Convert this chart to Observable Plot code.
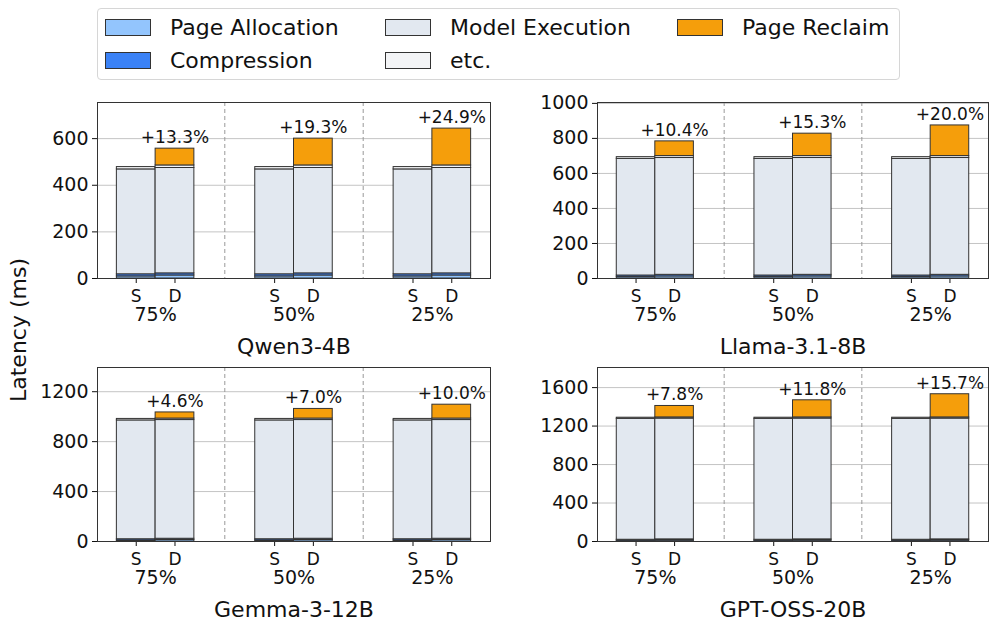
<!DOCTYPE html>
<html><head><meta charset="utf-8">
<script src="https://cdn.jsdelivr.net/npm/d3@7"></script>
<script src="https://cdn.jsdelivr.net/npm/@observablehq/plot@0.6"></script>
<style>
body{margin:0;background:#fff;font-family:"DejaVu Sans",sans-serif;}
#root{position:relative;width:997px;height:632px;overflow:hidden;background:#fff;}
.panel{position:absolute;}
#legend{position:absolute;left:97px;top:8px;width:801px;height:70px;border:1px solid #d6d6d6;border-radius:4px;box-sizing:content-box;}
.item{position:absolute;display:flex;align-items:center;height:26px;font-size:22px;color:#111;white-space:nowrap;}
.sw{width:44px;height:15px;border:1px solid #333;margin-right:19px;}
#ylabel{position:absolute;left:18px;top:330px;transform:translate(-50%,-50%) rotate(-90deg);font-size:22px;white-space:nowrap;color:#111;}
</style></head>
<body><div id="root"><div id="legend"></div><div id="ylabel">Latency (ms)</div></div>
<script>
const models = ["Qwen3-4B", "Llama-3.1-8B", "Gemma-3-12B", "GPT-OSS-20B"];
const groups = ["75%", "50%", "25%"];
const configs = ["S", "D"];
const layers = ["Page Allocation", "Compression", "Model Execution", "etc.", "Page Reclaim"];
const colors = ["#93c5fd", "#3b82f6", "#e2e8f0", "#f3f4f6", "#f59e0b"];

// per-model values (ms), S = static, D = dynamic
const pageAllocS   = [9, 8, 8, 8];
const pageAllocD   = [13, 12, 12, 12];
const compressionS = [9, 9, 10, 10];
const compressionD = [9, 9, 10, 10];
const modelExecS   = [450, 666, 952, 1257];
const modelExecD   = [452, 667, 951, 1256];
const etcS         = [10, 10, 12, 12];
const etcD         = [11, 11, 12, 12];
// page reclaim for D at 75%, 50%, 25%
const reclaimQwen  = [72, 115, 158];
const reclaimLlama = [84, 128, 175];
const reclaimGemma = [49, 77, 111];
const reclaimGpt   = [119, 178, 241];
const reclaimD = [reclaimQwen, reclaimLlama, reclaimGemma, reclaimGpt];
const overheadLabels = [
  ["+13.3%", "+19.3%", "+24.9%"],
  ["+10.4%", "+15.3%", "+20.0%"],
  ["+4.6%", "+7.0%", "+10.0%"],
  ["+7.8%", "+11.8%", "+15.7%"]
];
const yTicks = [
  [0, 200, 400, 600],
  [0, 200, 400, 600, 800, 1000],
  [0, 400, 800, 1200],
  [0, 400, 800, 1200, 1600]
];
const yMax = [755, 1005, 1394, 1809];

// legend
const legendPos = [[0,0],[0,1],[1,0],[1,1],[2,0]];
const colX = [7, 287, 579];
const rowY = [5, 38];
const legend = document.getElementById("legend");
layers.forEach((l, i) => {
  const [c, r] = legendPos[i];
  const it = document.createElement("div");
  it.className = "item";
  it.style.left = colX[c] + "px";
  it.style.top = rowY[r] + "px";
  it.innerHTML = `<div class="sw" style="background:${colors[i]}"></div><span>${l}</span>`;
  legend.appendChild(it);
});

const BW = 0.28;
const panelPos = [[0, 90, 12], [500, 90, 12], [0, 355, 12], [500, 355, 12]];
const frameH = [176, 176, 174, 174];

models.forEach((m, i) => {
  const rows = [];
  const tops = [];
  groups.forEach((g, gi) => configs.forEach((c, ci) => {
    const vals = c === "S"
      ? [pageAllocS[i], compressionS[i], modelExecS[i], etcS[i], 0]
      : [pageAllocD[i], compressionD[i], modelExecD[i], etcD[i], reclaimD[i][gi]];
    let y = 0;
    vals.forEach((v, li) => {
      if (v > 0) rows.push({gi, ci, layer: layers[li], y1: y, y2: y + v});
      y += v;
    });
    if (c === "D") tops.push({gi, total: y, label: overheadLabels[i][gi]});
  }));
  const centers = [];
  groups.forEach((g, gi) => configs.forEach((c, ci) => centers.push({x: gi + (ci - 0.5) * BW, t: c})));
  const [left, top, mt] = panelPos[i];
  const H = 290;
  const plot = Plot.plot({
    width: i % 2 === 0 ? 500 : 497,
    height: H,
    marginLeft: 97,
    marginRight: i % 2 === 0 ? 10 : 9,
    marginTop: mt,
    marginBottom: H - mt - frameH[i],
    style: {fontFamily: "DejaVu Sans, sans-serif", color: "#111", background: "transparent", overflow: "visible"},
    x: {domain: [-0.42, 2.42], axis: null},
    y: {domain: [0, yMax[i]], axis: null},
    color: {domain: layers, range: colors},
    marks: [
      Plot.gridY(yTicks[i], {stroke: "#c4c4c4", strokeOpacity: 1, strokeWidth: 1}),
      Plot.ruleX([0.5, 1.5], {stroke: "#999", strokeDasharray: "4,3", strokeWidth: 1}),
      Plot.rect(rows, {
        x1: d => d.gi + (d.ci - 1) * BW,
        x2: d => d.gi + d.ci * BW,
        y1: "y1", y2: "y2",
        fill: "layer", stroke: "#333", strokeWidth: 1
      }),
      Plot.text(tops, {x: d => d.gi + 0.5 * BW, y: "total", text: "label", fontSize: 17, lineAnchor: "middle", dy: -11, fill: "#111"}),
      Plot.axisY({ticks: yTicks[i], tickSize: 5, tickPadding: 4, fontSize: 19, label: null, tickFormat: d => String(d)}),
      Plot.axisX({ticks: centers.map(d => d.x), tickFormat: (d, k) => centers[k].t, tickSize: 5, tickPadding: 6, fontSize: 17, label: null}),
      Plot.axisX({ticks: [0, 1, 2], tickFormat: d => groups[d], tickSize: 0, tickPadding: 29, fontSize: 19, label: null}),
      Plot.frame({stroke: "#333", strokeWidth: 1}),
      Plot.text([m], {frameAnchor: "bottom", text: d => d, fontSize: 22, lineAnchor: "top", dy: 60, fill: "#111"})
    ]
  });
  plot.classList.add("panel");
  plot.style.left = left + "px";
  plot.style.top = top + "px";
  plot.style.position = "absolute";
  document.getElementById("root").appendChild(plot);
});
</script>
</body></html>
